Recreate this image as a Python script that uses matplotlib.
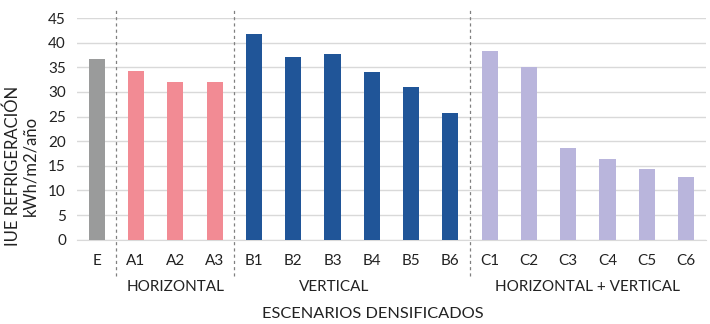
import matplotlib
matplotlib.use("Agg")
import matplotlib.pyplot as plt
from matplotlib.transforms import blended_transform_factory

categories = ["E", "A1", "A2", "A3", "B1", "B2", "B3", "B4", "B5", "B6",
              "C1", "C2", "C3", "C4", "C5", "C6"]
values = [36.6, 34.3, 32.0, 32.0, 41.7, 37.1, 37.6, 34.1, 30.9, 25.7,
          38.4, 35.0, 18.7, 16.4, 14.4, 12.8]
groups = ["E", "A", "A", "A", "B", "B", "B", "B", "B", "B",
          "C", "C", "C", "C", "C", "C"]
group_colors = {"E": "#9a9b9b", "A": "#f28b94", "B": "#205598", "C": "#b9b5dc"}
group_labels = [("HORIZONTAL", 2.0), ("VERTICAL", 6.05), ("HORIZONTAL + VERTICAL", 12.5)]
separators = [0.5, 3.5, 9.5]
yticks = [0, 5, 10, 15, 20, 25, 30, 35, 40, 45]

plt.rcParams['font.family'] = ['Lato', 'DejaVu Sans']
fig = plt.figure(figsize=(7.1, 3.24), dpi=100)
ax = fig.add_axes([0.1085, 0.2602, 0.994 - 0.1085, 0.9444 - 0.2602])

x = list(range(len(categories)))
ax.bar(x, values, width=0.41, color=[group_colors[g] for g in groups], zorder=3)
ax.set_xlim(-0.5, len(categories) - 0.5)
ax.set_ylim(0, 45)
ax.set_yticks(yticks)
ax.set_xticks(x)
ax.set_xticklabels(categories)
ax.tick_params(axis='both', length=0, labelsize=11, colors='#222222')
ax.tick_params(axis='x', pad=10)
ax.tick_params(axis='y', pad=8)
ax.yaxis.grid(True, color='#d9d9d9', linewidth=1, zorder=0)
for s in ['top', 'right', 'left']:
    ax.spines[s].set_visible(False)
ax.spines['bottom'].set_color('#d9d9d9')

for sx in separators:
    ax.plot([sx, sx], [-7.3, 46.6], color='#808080', linestyle=(0, (2.5, 2.5)),
            linewidth=0.9, clip_on=False, zorder=4)

trans = blended_transform_factory(ax.transData, fig.transFigure)
for lab, pos in group_labels:
    ax.text(pos, 1 - 287 / 324, lab, transform=trans, ha='center', va='center',
            fontsize=11, color='#222222')

fig.text(373 / 710, 1 - 314 / 324, "ESCENARIOS DENSIFICADOS", ha='center', va='center',
         fontsize=11.8, color='#222222')
fig.text(21 / 710, 1 - 166 / 324, "IUE REFRIGERACIÓN\nkWh/m2/año", ha='center', va='center',
         rotation=90, fontsize=12, color='#222222', linespacing=1.1)

fig.savefig("out.png", dpi=100)
